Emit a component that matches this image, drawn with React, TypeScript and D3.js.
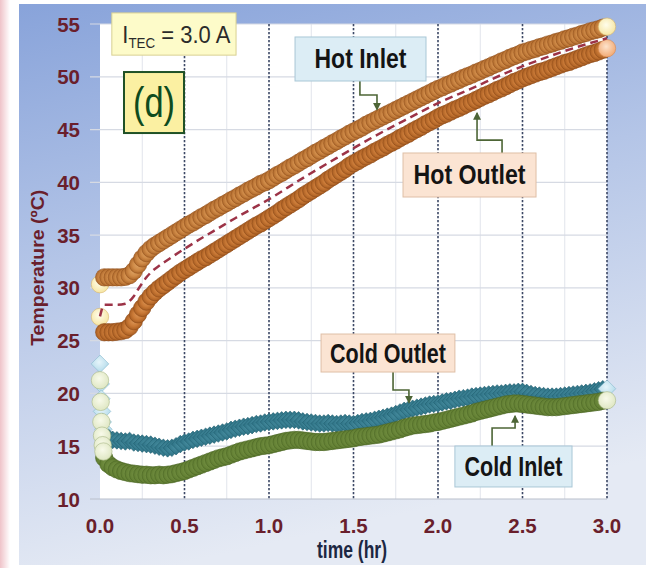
import React from 'react';
import * as d3 from 'd3';

const W = 646;
const H = 568;
const STEP = 0.025; // logging interval of the main record, hours

// Hot side, t = 0, 0.025, ... 3.0 h (first value at t = 0, then rows of 0.2 h)
const hotInlet = [
  30.35,
  31.0, 31.0, 31.0, 31.0, 31.0, 31.05, 31.2, 31.6,
  32.2, 32.8, 33.3, 33.7, 34.0, 34.25, 34.5, 34.75,
  35.0, 35.25, 35.5, 35.75, 36.0, 36.2, 36.45, 36.7,
  36.9, 37.15, 37.4, 37.6, 37.85, 38.05, 38.3, 38.5,
  38.75, 38.95, 39.2, 39.4, 39.6, 39.85, 40.0, 40.2,
  40.45, 40.7, 40.9, 41.15, 41.4, 41.6, 41.85, 42.1,
  42.3, 42.55, 42.8, 43.0, 43.25, 43.45, 43.7, 43.9,
  44.15, 44.35, 44.6, 44.8, 45.0, 45.2, 45.45, 45.65,
  45.85, 46.05, 46.25, 46.45, 46.65, 46.85, 47.05, 47.25,
  47.45, 47.65, 47.85, 48.05, 48.25, 48.45, 48.65, 48.85,
  49.0, 49.2, 49.35, 49.55, 49.7, 49.9, 50.05, 50.2,
  50.4, 50.55, 50.75, 50.9, 51.1, 51.25, 51.45, 51.6,
  51.8, 51.95, 52.1, 52.3, 52.4, 52.55, 52.65, 52.8,
  52.9, 53.05, 53.15, 53.3, 53.4, 53.55, 53.65, 53.8,
  53.9, 54.05, 54.15, 54.3, 54.4, 54.5, 54.65, 54.75,
];

const hotOutlet = [
  27.25,
  25.8, 25.8, 25.8, 25.85, 25.9, 26.0, 26.3, 26.85,
  27.5, 28.1, 28.7, 29.2, 29.6, 29.95, 30.25, 30.55,
  30.85, 31.15, 31.45, 31.7, 31.95, 32.2, 32.45, 32.7,
  32.9, 33.15, 33.4, 33.65, 33.9, 34.15, 34.4, 34.65,
  34.9, 35.15, 35.4, 35.65, 35.9, 36.1, 36.35, 36.6,
  36.85, 37.1, 37.4, 37.65, 37.9, 38.15, 38.4, 38.7,
  38.95, 39.2, 39.45, 39.7, 39.95, 40.25, 40.5, 40.75,
  41.0, 41.25, 41.55, 41.8, 42.0, 42.25, 42.45, 42.65,
  42.9, 43.1, 43.3, 43.55, 43.75, 43.95, 44.2, 44.4,
  44.6, 44.85, 45.05, 45.25, 45.5, 45.7, 45.9, 46.15,
  46.35, 46.5, 46.7, 46.9, 47.05, 47.25, 47.45, 47.6,
  47.8, 48.0, 48.2, 48.35, 48.55, 48.75, 48.9, 49.1,
  49.3, 49.5, 49.65, 49.85, 50.0, 50.15, 50.3, 50.45,
  50.55, 50.7, 50.85, 51.0, 51.15, 51.3, 51.4, 51.55,
  51.7, 51.85, 52.0, 52.15, 52.25, 52.4, 52.55, 52.7,
];

// Mean hot-side temperature (dashed line)
const hotMeanTimes = [0, 0.025, 0.1, 0.15, 0.175, 0.2, 0.225, 0.25, 0.275, 0.3, 0.35, 0.4, 0.5, 0.6, 0.7, 0.8, 0.9, 1.0, 1.2, 1.4, 1.6, 1.8, 2.0, 2.2, 2.4, 2.6, 2.8, 3.0];
const hotMean = [27.3, 28.4, 28.4, 28.5, 28.75, 29.2, 29.85, 30.45, 31.0, 31.45, 32.1, 32.65, 33.7, 34.7, 35.65, 36.6, 37.5, 38.4, 40.4, 42.3, 44.15, 45.85, 47.5, 48.9, 50.35, 51.6, 52.7, 53.65];

// Cold side: fast start-up transient, then t = 0.025 ... 3.0 h in rows of 0.2 h
const coldStartTimes = [0, 0.004, 0.008, 0.012, 0.016, 0.02];
const coldOutletStart = [22.8, 20.9, 19.5, 18.3, 17.3, 16.6];
const coldInletStart = [21.25, 19.2, 17.3, 16.0, 15.1, 14.5];

const coldOutlet = [
  16.0, 15.8, 15.6, 15.55, 15.5, 15.45, 15.5, 15.35,
  15.3, 15.25, 15.2, 15.15, 15.05, 14.95, 14.85, 14.8,
  14.85, 15.0, 15.2, 15.35, 15.45, 15.6, 15.7, 15.8,
  15.9, 16.0, 16.1, 16.2, 16.3, 16.4, 16.55, 16.65,
  16.75, 16.85, 16.9, 17.0, 17.1, 17.15, 17.25, 17.3,
  17.35, 17.4, 17.45, 17.5, 17.5, 17.5, 17.45, 17.35,
  17.3, 17.25, 17.2, 17.15, 17.15, 17.2, 17.15, 17.1,
  17.15, 17.2, 17.15, 17.1, 17.2, 17.3, 17.35, 17.4,
  17.5, 17.6, 17.7, 17.8, 17.9, 18.05, 18.2, 18.35,
  18.45, 18.55, 18.65, 18.75, 18.85, 18.95, 19.0, 19.05,
  19.15, 19.25, 19.3, 19.4, 19.5, 19.55, 19.6, 19.7,
  19.75, 19.8, 19.85, 19.9, 19.95, 20.0, 20.0, 20.05,
  20.1, 20.1, 20.15, 20.15, 20.05, 19.95, 19.85, 19.8,
  19.75, 19.7, 19.7, 19.7, 19.75, 19.8, 19.85, 19.9,
  19.95, 20.0, 20.05, 20.1, 20.2, 20.3, 20.4, 20.45,
];

const coldInlet = [
  13.9, 13.3, 13.0, 12.8, 12.65, 12.55, 12.45, 12.4,
  12.35, 12.3, 12.3, 12.25, 12.25, 12.3, 12.25, 12.3,
  12.35, 12.45, 12.55, 12.65, 12.8, 12.95, 13.1, 13.25,
  13.4, 13.55, 13.7, 13.85, 13.95, 14.05, 14.2, 14.35,
  14.5, 14.6, 14.7, 14.8, 14.9, 15.0, 15.05, 15.1,
  15.2, 15.3, 15.4, 15.5, 15.55, 15.6, 15.6, 15.55,
  15.5, 15.45, 15.4, 15.4, 15.4, 15.45, 15.5, 15.55,
  15.6, 15.65, 15.7, 15.75, 15.85, 15.9, 15.95, 16.0,
  16.05, 16.1, 16.2, 16.3, 16.4, 16.5, 16.6, 16.75,
  16.85, 16.95, 17.0, 17.05, 17.1, 17.15, 17.25, 17.3,
  17.4, 17.5, 17.6, 17.7, 17.8, 17.9, 18.0, 18.1,
  18.25, 18.35, 18.45, 18.55, 18.65, 18.75, 18.85, 18.95,
  19.0, 19.05, 19.05, 19.0, 18.95, 18.9, 18.85, 18.8,
  18.75, 18.7, 18.7, 18.7, 18.75, 18.8, 18.85, 18.9,
  18.95, 19.0, 19.05, 19.1, 19.15, 19.2, 19.3, 19.35,
];

const xTicks = [0, 0.5, 1.0, 1.5, 2.0, 2.5, 3.0];
const xMinor = [0.25, 0.75, 1.25, 1.75, 2.25, 2.75];
const yTicks = [10, 15, 20, 25, 30, 35, 40, 45, 50, 55];

// Callout boxes and their leader lines, in data units (hours, °C)
const callouts = [
  { label: 'Hot Inlet', t0: 1.154, t1: 1.929, T0: 53.77, T1: 49.6, fill: '#dcedf5', stroke: '#a9c7d6', width: 92,
    path: [[1.538, 49.6], [1.538, 48.27], [1.639, 48.27], [1.639, 46.9]] },
  { label: 'Hot Outlet', t0: 1.793, t1: 2.58, T0: 42.78, T1: 38.61, fill: '#fbe4d3', stroke: '#dfbfa6', width: 112,
    path: [[2.379, 42.78], [2.379, 44.0], [2.231, 44.0], [2.231, 46.55]] },
  { label: 'Cold Outlet', t0: 1.308, t1: 2.1, T0: 25.63, T1: 22.03, fill: '#fbe4d3', stroke: '#dfbfa6', width: 116,
    path: [[1.734, 22.03], [1.734, 20.33], [1.828, 20.33], [1.828, 19.15]] },
  { label: 'Cold Inlet', t0: 2.1, t1: 2.793, T0: 15.02, T1: 11.14, fill: '#dcedf5', stroke: '#a9c7d6', width: 98,
    path: [[2.32, 15.02], [2.32, 16.73], [2.456, 16.73], [2.456, 17.85]] },
];

const x = d3.scaleLinear().domain([0, 3]).range([100, 607]);
const y = d3.scaleLinear().domain([10, 55]).range([499, 24]);

const hotTime = (i: number) => i * STEP;
const coldTime = (i: number) => (i + 1) * STEP;

const R = 8.7;
const D = 8.8; // diamond half-diagonal

const diamond = (cx: number, cy: number) =>
  `M${cx},${cy - D}L${cx + D},${cy}L${cx},${cy + D}L${cx - D},${cy}Z`;

export default function App() {
  const meanLine = d3
    .line<number>()
    .x((_, i) => x(hotMeanTimes[i]))
    .y((d) => y(d))
    .curve(d3.curveMonotoneX)(hotMean) as string;

  const leader = d3
    .line<number[]>()
    .x((d) => x(d[0]))
    .y((d) => y(d[1]));

  const font = 'Liberation Sans, Arial, Helvetica, sans-serif';
  const maroon = '#6a1f2c';

  const lastHot = hotInlet.length - 1;
  const lastCold = coldOutlet.length - 1;

  return (
    <svg width={W} height={H} style={{ position: 'absolute', left: 0, top: 0 }} fontFamily={font}>
      <defs>
        <linearGradient id="panel" x1="0" y1="0" x2="0.25" y2="1">
          <stop offset="0%" stopColor="#88a3da" />
          <stop offset="45%" stopColor="#b4c5e7" />
          <stop offset="100%" stopColor="#e5eaf4" />
        </linearGradient>
        <linearGradient id="pink" x1="0" y1="0" x2="1" y2="0">
          <stop offset="0%" stopColor="#efc3c9" />
          <stop offset="100%" stopColor="#ffffff" />
        </linearGradient>
        <radialGradient id="hotIn" cx="50%" cy="50%" r="50%">
          <stop offset="0%" stopColor="#dfa565" />
          <stop offset="60%" stopColor="#cf8a47" />
          <stop offset="100%" stopColor="#b06a2c" />
        </radialGradient>
        <radialGradient id="hotOut" cx="50%" cy="50%" r="50%">
          <stop offset="0%" stopColor="#dc9657" />
          <stop offset="60%" stopColor="#c97936" />
          <stop offset="100%" stopColor="#a95e22" />
        </radialGradient>
        <radialGradient id="paleYellow" cx="45%" cy="40%" r="60%">
          <stop offset="0%" stopColor="#fffdeb" />
          <stop offset="100%" stopColor="#f6e6a3" />
        </radialGradient>
        <radialGradient id="palePeach" cx="45%" cy="40%" r="60%">
          <stop offset="0%" stopColor="#fde3cc" />
          <stop offset="100%" stopColor="#f2aa74" />
        </radialGradient>
        <radialGradient id="teal" cx="50%" cy="50%" r="50%">
          <stop offset="0%" stopColor="#4e94a6" />
          <stop offset="100%" stopColor="#2b7083" />
        </radialGradient>
        <radialGradient id="paleTeal" cx="45%" cy="40%" r="60%">
          <stop offset="0%" stopColor="#e6f5fa" />
          <stop offset="100%" stopColor="#b2daea" />
        </radialGradient>
        <radialGradient id="olive" cx="50%" cy="50%" r="50%">
          <stop offset="0%" stopColor="#809d4e" />
          <stop offset="100%" stopColor="#607d31" />
        </radialGradient>
        <radialGradient id="paleOlive" cx="45%" cy="40%" r="60%">
          <stop offset="0%" stopColor="#f8faea" />
          <stop offset="100%" stopColor="#dfe7c3" />
        </radialGradient>
        <marker id="tip" viewBox="0 0 6 6" refX="5" refY="3" markerWidth="5" markerHeight="5" orient="auto">
          <path d="M0,0L6,3L0,6Z" fill="#4d6536" />
        </marker>
      </defs>

      {/* page background */}
      <rect x={0} y={0} width={W} height={H} fill="#ffffff" />
      <rect x={0} y={0} width={10} height={H} fill="url(#pink)" />
      <rect x={19} y={4} width={W - 19} height={561} fill="url(#panel)" />

      {/* plot area */}
      <rect x={x(0)} y={y(55)} width={x(3) - x(0)} height={y(10) - y(55)} fill="#ffffff" />

      {xMinor.map((t) => (
        <line key={`m${t}`} x1={x(t)} x2={x(t)} y1={y(55)} y2={y(10)} stroke="#e1e4eb" strokeWidth={1} />
      ))}
      {yTicks.map((v) => (
        <line key={`h${v}`} x1={90} x2={x(3)} y1={y(v)} y2={y(v)} stroke={v === 10 ? '#b9bfcc' : '#d6dae3'} strokeWidth={1.2} />
      ))}
      {xTicks.filter((t) => t > 0).map((t) => (
        <line key={`v${t}`} x1={x(t)} x2={x(t)} y1={y(55)} y2={y(10)} stroke="#3d4966" strokeWidth={1.6} strokeDasharray="2.2 1.8" />
      ))}

      {/* axis tick labels */}
      {yTicks.map((v) => (
        <text key={`yl${v}`} x={80} y={y(v) + 7.5} textAnchor="end" fontSize={20.5} fontWeight="bold" fill={maroon}>
          {v}
        </text>
      ))}
      {xTicks.map((t) => (
        <text key={`xl${t}`} x={x(t)} y={533} textAnchor="middle" fontSize={20.5} fontWeight="bold" fill={maroon}>
          {t.toFixed(1)}
        </text>
      ))}

      {/* axis titles */}
      <text
        transform={`translate(44,${y(31.9)}) rotate(-90)`}
        textAnchor="middle"
        fontSize={19}
        fontWeight="bold"
        fill={maroon}
        textLength={156}
        lengthAdjust="spacingAndGlyphs"
      >
        Temperature (ºC)
      </text>
      <text x={352} y={558} textAnchor="middle" fontSize={23} fontWeight="bold" fill="#1c2742" textLength={70} lengthAdjust="spacingAndGlyphs">
        time (hr)
      </text>

      {/* cold outlet: diamonds */}
      <g strokeWidth={0.6}>
        {coldOutletStart.map((v, i) => (
          <path key={`cos${i}`} d={diamond(x(coldStartTimes[i]), y(v))} fill="url(#paleTeal)" stroke="#86b9cc" />
        ))}
        {coldOutlet.map((v, i) => (
          <path
            key={`co${i}`}
            d={diamond(x(coldTime(i)), y(v))}
            fill={i === lastCold ? 'url(#paleTeal)' : 'url(#teal)'}
            stroke={i === lastCold ? '#86b9cc' : '#225f70'}
          />
        ))}
      </g>

      {/* cold inlet: circles */}
      <g strokeWidth={0.6}>
        {coldInlet.map((v, i) => (
          <circle
            key={`ci${i}`}
            cx={x(coldTime(i))}
            cy={y(v)}
            r={R}
            fill={i === lastCold ? 'url(#paleOlive)' : 'url(#olive)'}
            stroke={i === lastCold ? '#a7b787' : '#4c6625'}
          />
        ))}
        {coldInletStart.map((v, i) => (
          <circle key={`cis${i}`} cx={x(coldStartTimes[i])} cy={y(v)} r={R} fill="url(#paleOlive)" stroke="#a7b787" />
        ))}
      </g>

      {/* hot inlet */}
      <g strokeWidth={0.6}>
        {hotInlet.map((v, i) => (
          <circle
            key={`hi${i}`}
            cx={x(hotTime(i))}
            cy={y(v)}
            r={R}
            fill={i === 0 || i === lastHot ? 'url(#paleYellow)' : 'url(#hotIn)'}
            stroke={i === 0 || i === lastHot ? '#d9b56c' : '#94531f'}
          />
        ))}
      </g>

      {/* hot outlet */}
      <g strokeWidth={0.6}>
        {hotOutlet.map((v, i) => (
          <circle
            key={`ho${i}`}
            cx={x(hotTime(i))}
            cy={y(v)}
            r={R}
            fill={i === 0 ? 'url(#paleYellow)' : i === lastHot ? 'url(#palePeach)' : 'url(#hotOut)'}
            stroke={i === 0 ? '#d9b56c' : i === lastHot ? '#d68a52' : '#8e4b19'}
          />
        ))}
      </g>

      {/* hot-side mean */}
      <path d={meanLine} fill="none" stroke="#9c3347" strokeWidth={2.5} strokeDasharray="8 5" />

      {/* condition labels */}
      <rect x={x(0.07)} y={y(56.05)} width={x(0.805) - x(0.07)} height={y(52.05) - y(56.05)} fill="#fdfbc9" stroke="#d8d092" strokeWidth={1} />
      <text x={x(0.132)} y={y(54.05) + 8.5} fontSize={23} fill="#2b2b2b" textLength={108} lengthAdjust="spacingAndGlyphs">
        I
        <tspan fontSize={14} dy={5}>TEC</tspan>
        <tspan dy={-5}> = 3.0 A</tspan>
      </text>

      <rect x={x(0.142)} y={y(50.45)} width={x(0.497) - x(0.142)} height={y(44.67) - y(50.45)} fill="#fbf0a2" stroke="#1f5126" strokeWidth={2} />
      <text x={x(0.3195)} y={y(47.56) + 14} textAnchor="middle" fontSize={42} fill="#0e4b1e" textLength={42} lengthAdjust="spacingAndGlyphs">
        (d)
      </text>

      {/* series callouts */}
      {callouts.map((c) => {
        const bx = x(c.t0);
        const by = y(c.T0);
        const bw = x(c.t1) - bx;
        const bh = y(c.T1) - by;
        return (
          <g key={c.label}>
            <path d={leader(c.path) as string} fill="none" stroke="#4d6536" strokeWidth={1.6} markerEnd="url(#tip)" />
            <rect x={bx} y={by} width={bw} height={bh} fill={c.fill} stroke={c.stroke} strokeWidth={1} />
            <text
              x={bx + bw / 2}
              y={by + bh / 2 + 9.5}
              textAnchor="middle"
              fontSize={27}
              fontWeight="bold"
              fill="#141414"
              textLength={c.width}
              lengthAdjust="spacingAndGlyphs"
            >
              {c.label}
            </text>
          </g>
        );
      })}
    </svg>
  );
}
